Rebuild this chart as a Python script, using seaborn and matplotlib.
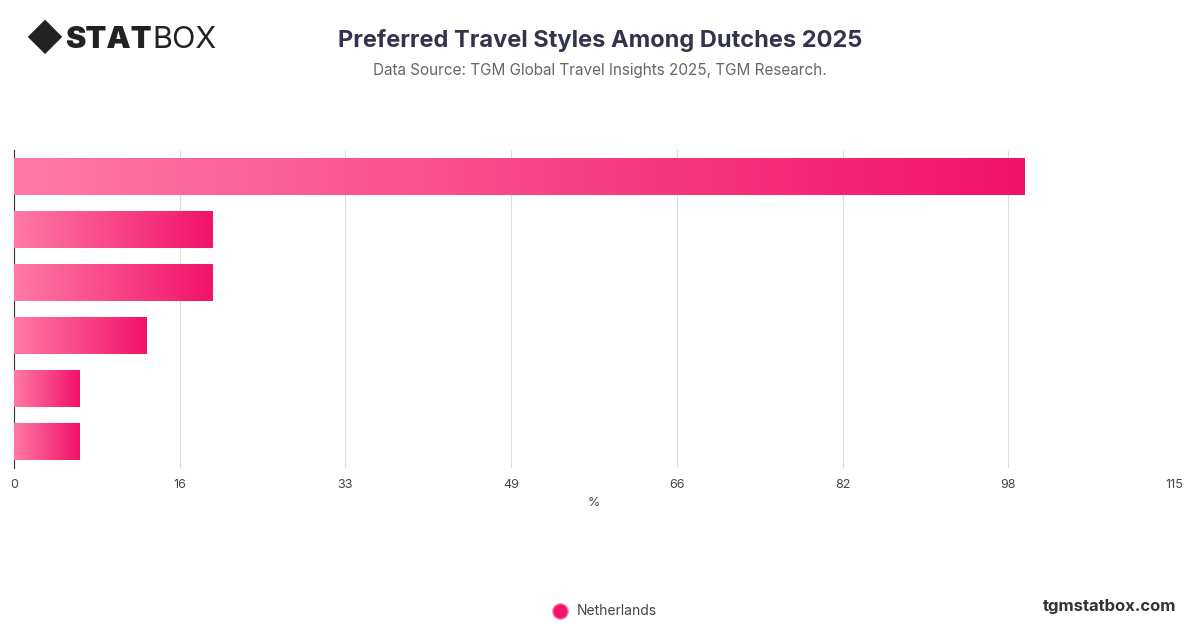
import matplotlib
matplotlib.use("Agg")
import matplotlib.pyplot as plt
import seaborn as sns
import numpy as np
import pandas as pd
from matplotlib.colors import LinearSegmentedColormap
from matplotlib.lines import Line2D

categories = ["Style 1", "Style 2", "Style 3", "Style 4", "Style 5", "Style 6"]
values = [100.2, 19.7, 19.7, 13.1, 6.5, 6.5]
ticks = [0, 16, 33, 49, 66, 82, 98, 115]
tick_pos = [115 * i / 7 for i in range(8)]

sns.set_theme(style="white")
plt.rcParams['font.family'] = ['Inter', 'DejaVu Sans']
fig = plt.figure(figsize=(12, 6.28), dpi=100)
ax = fig.add_axes([14/1200, 1-468/628, 1160/1200, 318/628])
df = pd.DataFrame({"cat": categories, "val": values})
sns.barplot(data=df, x="val", y="cat", orient="h", ax=ax, width=0.68, color="#f0186b")
cmap = LinearSegmentedColormap.from_list("g", ["#ff7aa6", "#f2126a"])
grad = np.linspace(0, 1, 256).reshape(1, -1)
for p in ax.patches:
    x0, y0, w, h = p.get_x(), p.get_y(), p.get_width(), p.get_height()
    im = ax.imshow(grad, cmap=cmap, extent=[x0, x0 + w, y0 + h, y0], aspect="auto", zorder=3)
    im.set_clip_path(p)
    p.set_alpha(0)
ax.set_ylim(5.5, -0.5)
ax.set_xlim(0, 115)
ax.set_xticks(tick_pos)
ax.set_xticklabels([str(t) for t in ticks], fontsize=9, color="#444")
ax.set_yticks([])
ax.set_ylabel("")
ax.set_xlabel("%", fontsize=9, color="#444")
ax.grid(axis="x", color="#dddddd", lw=0.8)
ax.set_axisbelow(True)
for s in ["top", "right", "bottom"]:
    ax.spines[s].set_visible(False)
ax.spines["left"].set_color("#333")
ax.spines["left"].set_linewidth(0.8)
ax.tick_params(axis="x", length=0, pad=8)

fig.text(600/1200, 1-40/628, "Preferred Travel Styles Among Dutches 2025", ha="center", va="center",
         fontsize=17, fontweight="bold", color="#33334d")
fig.text(600/1200, 1-71/628, "Data Source: TGM Global Travel Insights 2025, TGM Research.", ha="center",
         va="center", fontsize=11, color="#666")
fig.text(25/1200, 1-40/628, "◆", fontsize=26, color="#222", va="center", ha="left")
fig.text(65/1200, 1-40/628, "STAT", fontsize=22, fontweight="black", color="#222", va="center", ha="left")
fig.text(152/1200, 1-40/628, "BOX", fontsize=22, color="#222", va="center", ha="left")
fig.text(1176/1200, 1-606/628, "tgmstatbox.com", fontsize=12, fontweight="bold", color="#333",
         ha="right", va="center")
fig.add_artist(Line2D([560/1200], [1-611/628], transform=fig.transFigure, marker="o", markersize=11,
                      color="#f2126a", markeredgecolor="#ff7aa6", linestyle="none"))
fig.text(577/1200, 1-611/628, "Netherlands", fontsize=10, color="#444", va="center")
fig.savefig("out.png", dpi=100)
